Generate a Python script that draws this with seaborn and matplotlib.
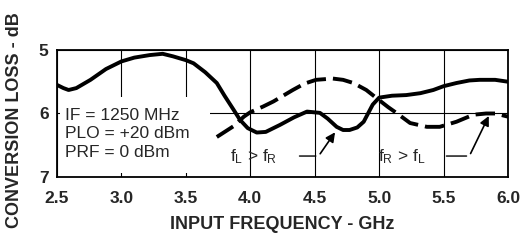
import matplotlib
matplotlib.use("Agg")
import matplotlib.pyplot as plt
import seaborn as sns
import pandas as pd
from matplotlib.patches import Rectangle

# conversion loss vs input frequency
freq_solid = [2.5, 2.55, 2.59, 2.65, 2.76, 2.88, 3.0, 3.1, 3.22, 3.32, 3.4, 3.5, 3.56, 3.65,
              3.74, 3.8, 3.87, 3.92, 3.98, 4.05, 4.12, 4.23, 4.34, 4.44, 4.54, 4.6, 4.67,
              4.72, 4.77, 4.83, 4.88, 4.95, 5.0, 5.1, 5.21, 5.32, 5.42, 5.5, 5.6, 5.7,
              5.78, 5.9, 6.0]
loss_solid = [5.55, 5.6, 5.63, 5.6, 5.47, 5.3, 5.18, 5.12, 5.08, 5.06, 5.1, 5.16, 5.21, 5.35,
              5.52, 5.72, 5.94, 6.1, 6.23, 6.3, 6.29, 6.18, 6.06, 5.97, 5.99, 6.08, 6.21,
              6.26, 6.26, 6.22, 6.13, 5.86, 5.75, 5.72, 5.71, 5.68, 5.63, 5.57, 5.52, 5.48,
              5.47, 5.47, 5.5]

freq_dash = [3.74, 3.87, 3.95, 4.0, 4.1, 4.18, 4.33, 4.42, 4.51, 4.64, 4.72, 4.8, 4.9,
             5.0, 5.07, 5.14, 5.24, 5.37, 5.47, 5.6, 5.73, 5.83, 5.9, 6.0]
loss_dash = [6.37, 6.2, 6.05, 5.98, 5.89, 5.81, 5.63, 5.53, 5.47, 5.45, 5.47, 5.52, 5.63,
             5.79, 5.9, 6.0, 6.15, 6.21, 6.21, 6.13, 6.02, 6.0, 6.0, 6.05]

x_ticks = [2.5, 3.0, 3.5, 4.0, 4.5, 5.0, 5.5, 6.0]
x_ticklabels = ["2.5", "3.0", "3.5", "4.0", "4.5", "5.0", "5.5", "6.0"]
y_ticks = [5, 6, 7]

conditions = "IF = 1250 MHz\nPLO = +20 dBm\nPRF = 0 dBm"

sns.set_style("white")
plt.rcParams['font.family'] = ['Liberation Sans', 'DejaVu Sans']
plt.rcParams['mathtext.default'] = 'regular'

df_solid = pd.DataFrame({"freq": freq_solid, "loss": loss_solid})
df_dash = pd.DataFrame({"freq": freq_dash, "loss": loss_dash})

fig = plt.figure(figsize=(5.21, 2.46), dpi=100)
ax = fig.add_axes([0.1094, 0.2805, 0.8657, 0.5163])

ax.set_axisbelow(True)
ax.grid(True, color="black", linewidth=0.8)

sns.lineplot(data=df_solid, x="freq", y="loss", ax=ax, color="black", linewidth=2.8,
             sort=False, zorder=3)
sns.lineplot(data=df_dash, x="freq", y="loss", ax=ax, color="black", linewidth=2.8,
             sort=False, zorder=3, linestyle=(0, (5, 1.8)))

# white area behind the test conditions
ax.add_patch(Rectangle((2.52, 5.74), 1.17, 1.2, facecolor="white", edgecolor="none", zorder=1))
ax.text(2.56, 6.32, conditions, fontsize=12.5, va="center", ha="left",
        linespacing=1.3, zorder=4)

ax.set_xlim(2.5, 6.0)
ax.set_ylim(7, 5)
ax.set_xticks(x_ticks)
ax.set_xticklabels(x_ticklabels)
ax.set_yticks(y_ticks)
ax.tick_params(axis="both", direction="in", length=4, width=1, labelsize=12.5)
ax.tick_params(axis="x", pad=10)
ax.tick_params(axis="y", pad=6)
for lbl in ax.get_xticklabels() + ax.get_yticklabels():
    lbl.set_fontweight("bold")
for sp in ax.spines.values():
    sp.set_color("black")
    sp.set_linewidth(1.3)

ax.set_xlabel("INPUT FREQUENCY - GHz", fontsize=13, fontweight="bold", labelpad=7)
ax.set_ylabel("CONVERSION LOSS - dB", fontsize=13, fontweight="bold", labelpad=9)
ax.yaxis.set_label_coords(-0.075, 0.45)

# curve labels with leader arrows
ax.text(3.84, 6.68, "f$_L$ > f$_R$", fontsize=12.5, va="center", ha="left")
ax.annotate("", xy=(4.53, 6.67), xytext=(4.36, 6.67),
            arrowprops=dict(arrowstyle="-", color="black", lw=1))
ax.annotate("", xy=(4.67, 6.26), xytext=(4.53, 6.67),
            arrowprops=dict(arrowstyle="-|>", color="black", lw=1.2, mutation_scale=14))

ax.text(4.99, 6.68, "f$_R$ > f$_L$", fontsize=12.5, va="center", ha="left")
ax.annotate("", xy=(5.7, 6.67), xytext=(5.5, 6.67),
            arrowprops=dict(arrowstyle="-", color="black", lw=1))
ax.annotate("", xy=(5.86, 6.0), xytext=(5.7, 6.67),
            arrowprops=dict(arrowstyle="-|>", color="black", lw=1.2, mutation_scale=14))

fig.savefig("out.png", dpi=100)
